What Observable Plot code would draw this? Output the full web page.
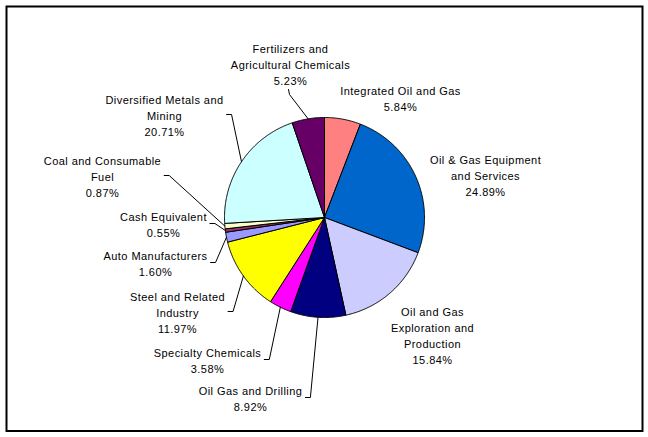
<!DOCTYPE html>
<html>
<head>
<meta charset="utf-8">
<script src="https://cdn.jsdelivr.net/npm/d3@7"></script>
<script src="https://cdn.jsdelivr.net/npm/@observablehq/plot@0.6"></script>
<style>
  html, body { margin: 0; padding: 0; background: #fff; }
  #chart { width: 648px; height: 437px; }
</style>
</head>
<body>
<div id="chart"></div>
<script>
// ---- data (clockwise from 12 o'clock) ----
const categories = [
  "Integrated Oil and Gas",
  "Oil & Gas Equipment\nand Services",
  "Oil and Gas\nExploration and\nProduction",
  "Oil Gas and Drilling",
  "Specialty Chemicals",
  "Steel and Related\nIndustry",
  "Auto Manufacturers",
  "Cash Equivalent",
  "Coal and Consumable\nFuel",
  "Diversified Metals and\nMining",
  "Fertilizers and\nAgricultural Chemicals"
];
const shares = [5.84, 24.89, 15.84, 8.92, 3.58, 11.97, 1.60, 0.55, 0.87, 20.71, 5.23];
const percentLabels = ["5.84%", "24.89%", "15.84%", "8.92%", "3.58%", "11.97%", "1.60%", "0.55%", "0.87%", "20.71%", "5.23%"];

// ---- styling / layout ----
const sliceColors = ["#FF8080", "#0066CC", "#CCCCFF", "#000080", "#FF00FF", "#FFFF00",
                     "#9999FF", "#993366", "#FFFFCC", "#CCFFFF", "#660066"];
// label block centre, in pie-radius units relative to the pie centre (y downwards)
const labelOffsets = [
  [0.76, -1.20], [1.61, -0.43], [1.08, 1.17], [-0.74, 1.80], [-1.17, 1.42], [-1.47, 0.94],
  [-1.69, 0.45], [-1.61, 0.06], [-2.22, -0.42], [-1.60, -1.03], [-0.34, -1.54]
];
// leader style: none, side (from right edge of label), bottom (from below label)
const leaderKinds = ["none", "none", "none", "side", "side", "side", "side", "side", "side", "side", "bottom"];

const FONT = "'Liberation Sans', Arial, sans-serif";
const FONT_SIZE = 11;
const LETTER_SP = 0.45;
const LINE_H = 16; // px
const PX = 100;   // pixels per radius unit

const ctx = document.createElement("canvas").getContext("2d");
ctx.font = `${FONT_SIZE}px 'Liberation Sans', Arial, sans-serif`;
const textWidth = s => ctx.measureText(s).width + LETTER_SP * s.length;

// ---- pie geometry via d3.pie ----
const pie = d3.pie().sort(null).value(d => d)(shares);
const slicePts = [];
pie.forEach((p, i) => {
  const a0 = p.startAngle, a1 = p.endAngle;
  const n = Math.max(2, Math.ceil((a1 - a0) / (Math.PI / 360)));
  slicePts.push({i, x: 0, y: 0, fill: sliceColors[i]});
  for (let k = 0; k <= n; k++) {
    const a = a0 + (a1 - a0) * k / n;
    slicePts.push({i, x: Math.sin(a), y: -Math.cos(a), fill: sliceColors[i]});
  }
  slicePts.push({i, x: 0, y: 0, fill: sliceColors[i]});
});

// ---- labels ----
const labels = categories.map((c, i) => ({
  i,
  text: c + "\n" + percentLabels[i],
  x: labelOffsets[i][0],
  y: labelOffsets[i][1]
}));

// ---- leader lines ----
const leaderPts = [];
labels.forEach((l, i) => {
  const kind = leaderKinds[i];
  if (kind === "none") return;
  const p = pie[i];
  const mid = (p.startAngle + p.endAngle) / 2;
  const end = {x: Math.sin(mid), y: -Math.cos(mid)};
  const lines = l.text.split("\n");
  if (kind === "side") {
    const w = Math.max(...lines.map(textWidth));
    const sx = l.x + (w / 2 + 3) / PX;
    leaderPts.push({i, x: sx, y: l.y});
    leaderPts.push({i, x: sx + 0.05, y: l.y});
    leaderPts.push({i, x: end.x, y: end.y});
  } else {
    const by = l.y + (lines.length * LINE_H / 2 + 2) / PX;
    leaderPts.push({i, x: l.x - 0.02, y: by});
    leaderPts.push({i, x: l.x - 0.01, y: by + 0.05});
    leaderPts.push({i, x: end.x, y: end.y});
  }
});

const W = 648, H = 437;
const cx = 324, cy = 217;
const mL = 6, mR = 6, mT = 6, mB = 6.5;

const chart = Plot.plot({
  width: W,
  height: H,
  marginLeft: mL, marginRight: mR, marginTop: mT, marginBottom: mB,
  x: {domain: [-(cx - mL) / PX, (W - mR - cx) / PX], range: [mL, W - mR], axis: null},
  y: {domain: [-(cy - mT) / PX, (H - mB - cy) / PX], range: [mT, H - mB], axis: null},
  color: {type: "identity"},
  style: {fontFamily: FONT, fontSize: FONT_SIZE + "px", background: "#fff", overflow: "visible"},
  marks: [
    Plot.line(slicePts, {x: "x", y: "y", z: "i", fill: "fill", stroke: "#000", strokeWidth: 1, curve: "linear", strokeLinejoin: "round"}),
    Plot.line(leaderPts, {x: "x", y: "y", z: "i", stroke: "#000", strokeWidth: 1, curve: "linear"}),
    Plot.text(labels, {x: "x", y: "y", text: "text", textAnchor: "middle", lineHeight: LINE_H / FONT_SIZE,
      fontSize: FONT_SIZE, fill: "#000", fontFamily: FONT}),
    Plot.frame({stroke: "#000", strokeWidth: 2})
  ]
});
chart.querySelectorAll("text").forEach(t => t.style.letterSpacing = LETTER_SP + "px");
document.getElementById("chart").appendChild(chart);
</script>
</body>
</html>
